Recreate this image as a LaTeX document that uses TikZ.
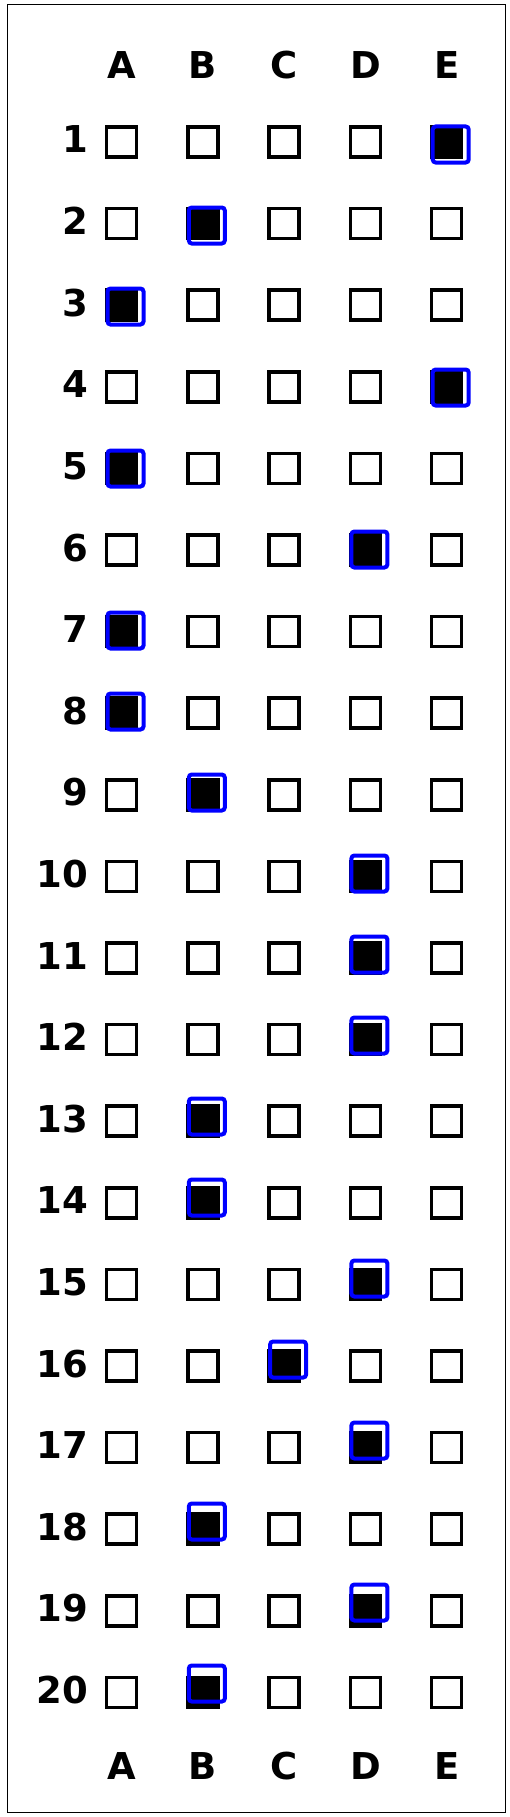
\documentclass[tikz,border=0pt]{standalone}
\usepackage{fontspec}
\setmainfont{DejaVu Sans}
\begin{document}
\begin{tikzpicture}[x=1pt,y=-1pt,
  ansbox/.style={draw=black,line width=3.5pt,minimum size=30pt,inner sep=0pt,outer sep=0pt},
  filledbox/.style={ansbox,fill=black},
  pick/.style={draw={rgb,255:red,0;green,0;blue,255},line width=4pt,minimum size=36pt,rounded corners=3pt,inner sep=0pt},
  lbl/.style={font=\fontsize{37}{40}\selectfont\bfseries,inner sep=0pt}]
\useasboundingbox (0,0) rectangle (509,1817);
\draw[line width=1pt] (7,5) rectangle (505,1812);
\foreach \L [count=\j] in {A,B,C,D,E} {
  \pgfmathsetmacro\cx{121.5+81.3*(\j-1)}
  \node[lbl,anchor=base] (top-\L) at (\cx,79) {\L};
  \node[lbl,anchor=base] (bot-\L) at (\cx,1779) {\L};
}
\foreach \i/\a in {1/5,2/2,3/1,4/5,5/1,6/4,7/1,8/1,9/2,10/4,11/4,12/4,13/2,14/2,15/4,16/3,17/4,18/2,19/4,20/2} {
  \pgfmathsetmacro\ry{142+81.6*(\i-1)}
  \pgfmathsetmacro\by{144.5+81*(\i-1)}
  \node[lbl,anchor=base east] (num-\i) at (88,\ry+11) {\i};
  \foreach \j in {1,...,5} {
    \pgfmathsetmacro\cx{121.5+81.3*(\j-1)}
    \ifnum\j=\a\relax
      \node[filledbox] (box-\i-\j) at (\cx,\ry) {};
      \node[pick] (pick-\i) at (\cx+4,\by) {};
    \else
      \node[ansbox] (box-\i-\j) at (\cx,\ry) {};
    \fi
  }
}
\end{tikzpicture}
\end{document}
